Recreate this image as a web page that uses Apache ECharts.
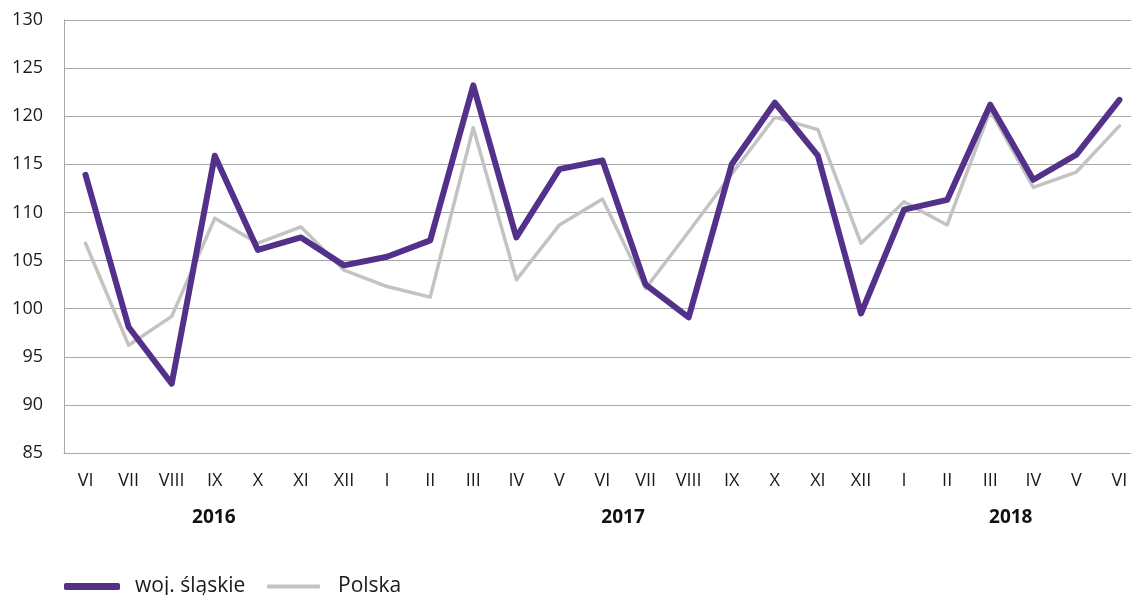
<!DOCTYPE html>
<html>
<head>
<meta charset="utf-8">
<script src="https://cdn.jsdelivr.net/npm/echarts@6/dist/echarts.min.js"></script>
<style>html,body{margin:0;padding:0;background:#fff;overflow:hidden}#c{width:1131px;height:595px}</style>
</head>
<body>
<div id="c"></div>
<script>
const categories = ['VI','VII','VIII','IX','X','XI','XII','I','II','III','IV','V','VI','VII','VIII','IX','X','XI','XII','I','II','III','IV','V','VI'];
const slaskie = [113.9,98.1,92.2,115.9,106.1,107.4,104.5,105.4,107.1,123.2,107.4,114.5,115.4,102.5,99.1,115.0,121.4,115.9,99.5,110.3,111.3,121.2,113.4,116.0,121.7];
const polska = [106.8,96.2,99.2,109.4,106.8,108.5,104.0,102.3,101.2,118.8,103.0,108.7,111.4,102.1,108.0,114.0,119.9,118.6,106.8,111.1,108.7,120.6,112.6,114.2,119.0];
const yearLabels = ['2016','2017','2018'];
const yearPos = [3, 12.5, 21.5];
const seriesNames = ['woj. śląskie','Polska'];

const chart = echarts.init(document.getElementById('c'), null, {renderer:'canvas'});
const font = '"Open Sans", "Noto Sans", sans-serif';
const gridColor = '#a8a8a8';
chart.setOption({
  animation:false,
  textStyle:{fontFamily:font},
  grid:{left:64, top:20, width:1077, height:433, containLabel:false, outerBoundsMode:'none'},
  xAxis:{type:'category', data:categories, boundaryGap:true,
    axisLine:{show:true, lineStyle:{color:gridColor,width:1}},
    axisTick:{show:false},
    axisLabel:{color:'#1a1a1a', fontSize:18, margin:19, interval:0, fontFamily:font}},
  yAxis:{type:'value', min:85, max:130, interval:5,
    axisLine:{show:true, lineStyle:{color:gridColor,width:1}},
    axisTick:{show:false},
    splitLine:{lineStyle:{color:gridColor,width:1}},
    axisLabel:{color:'#1a1a1a', fontSize:18, margin:21, fontFamily:font}},
  legend:[
    {left:64, top:576, padding:0, itemWidth:56, itemHeight:7, icon:'roundRect',
     textStyle:{fontSize:21, color:'#1a1a1a', fontFamily:font, padding:[0,0,0,10]}, data:[seriesNames[0]]},
    {left:267, top:576, padding:0, itemWidth:53, itemHeight:4, icon:'roundRect',
     textStyle:{fontSize:21, color:'#1a1a1a', fontFamily:font, padding:[0,0,0,13]}, data:[seriesNames[1]]}
  ],
  series:[
    {name:seriesNames[0], type:'line', data:slaskie, symbol:'none', z:3,
     lineStyle:{color:'#53318a', width:6, cap:'round', join:'round'}, itemStyle:{color:'#53318a'}},
    {name:seriesNames[1], type:'line', data:polska, symbol:'none', z:2,
     lineStyle:{color:'#c3c3c3', width:3.5, cap:'round', join:'round'}, itemStyle:{color:'#c3c3c3'}}
  ]
});
const y0 = chart.convertToPixel({yAxisIndex:0}, 85);
const gfx = yearLabels.map((t,i)=>{
  const a = Math.floor(yearPos[i]), b = Math.ceil(yearPos[i]);
  const xa = chart.convertToPixel({xAxisIndex:0}, a);
  const xb = chart.convertToPixel({xAxisIndex:0}, b);
  const x = xa + (xb-xa)*(yearPos[i]-a);
  return {type:'text', x:x - 1, y:y0+65, style:{text:t, fontSize:19, fontWeight:'bold', fill:'#111', textAlign:'center', textVerticalAlign:'middle', fontFamily:font}};
});
chart.setOption({graphic:gfx});
</script>
</body>
</html>
